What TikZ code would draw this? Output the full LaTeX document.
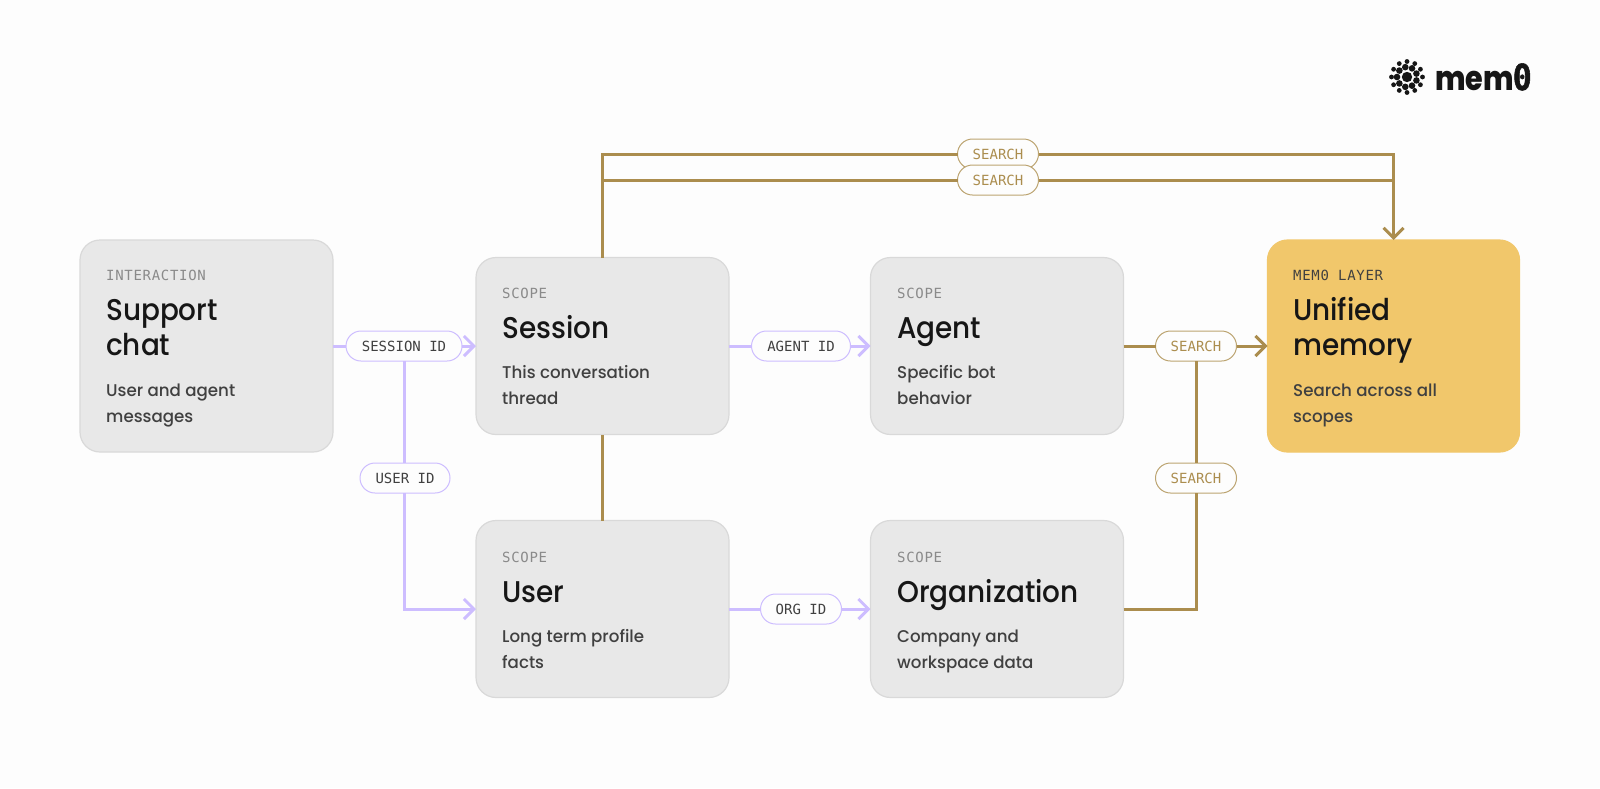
\documentclass[tikz,border=0pt]{standalone}
\usepackage{fontspec}
\usetikzlibrary{arrows.meta}
\setmainfont{Poppins Medium}
\newfontfamily\titlef{Poppins Medium}[FakeStretch=0.93]
\newfontfamily\descf{Poppins Medium}[FakeStretch=0.98]
\newfontfamily\monof{DejaVu Sans Mono}
\newfontfamily\tagf{DejaVu Sans Mono}[LetterSpace=5]
\newfontfamily\logof{Poppins ExtraBold}[FakeStretch=0.84]
\newfontfamily\logoz{DejaVu Sans Mono Bold}[FakeStretch=0.88,FakeBold=1.5]
\definecolor{bgc}{HTML}{FDFDFD}
\definecolor{boxf}{HTML}{E8E8E8}
\definecolor{boxd}{HTML}{D9D9D9}
\definecolor{gold}{HTML}{F1C76B}
\definecolor{brownl}{HTML}{AB8D4E}
\definecolor{purp}{HTML}{CDBDFF}
\definecolor{tagc}{HTML}{8A8A8A}
\definecolor{inkc}{HTML}{161616}
\definecolor{descc}{HTML}{404040}
\tikzset{
  x=1pt,y=-1pt,
  card/.style={rectangle,rounded corners=20pt,draw=boxd,line width=1.2pt,fill=boxf,minimum width=253pt,inner sep=0pt,outer sep=0pt,anchor=north west},
  goldcard/.style={card,draw=gold,fill=gold,minimum width=252pt},
  tagt/.style={anchor=base west,inner sep=0pt,font=\tagf\fontsize{14}{14}\selectfont,text=tagc},
  titlet/.style={anchor=base west,inner sep=0pt,font=\titlef\fontsize{30}{30}\selectfont,text=inkc},
  desct/.style={anchor=base west,inner sep=0pt,font=\descf\fontsize{17}{17}\selectfont,text=descc},
  pill/.style={rectangle,rounded corners=15pt,minimum height=30pt,inner sep=0pt,outer sep=0pt,fill=bgc,line width=1pt,font=\monof\fontsize{14}{14}\selectfont},
  ppill/.style={pill,draw=purp,text=descc},
  bpill/.style={pill,draw=brownl!80!white,text=brownl},
  pline/.style={draw=purp,line width=3pt},
  bline/.style={draw=brownl,line width=3pt},
  tipb/.style={-{Straight Barb[length=10pt,width=20pt,line width=3pt]}},
}
\begin{document}
\begin{tikzpicture}
\useasboundingbox (0,0) rectangle (1600,788);
\fill[bgc] (0,0) rectangle (1600,788);

% cards
\node[card,minimum height=212pt] (chat) at (80,240) {};
\node[tagt] (chatT) at (106,280) {INTERACTION};
\node[titlet] (chatA) at (106,320) {Support};
\node[titlet] (chatB) at (106,355) {chat};
\node[desct] (chatC) at (106,396) {User and agent};
\node[desct] (chatD) at (106,422) {messages};

\node[card,minimum height=177pt] (session) at (476,257.5) {};
\node[tagt] (sessT) at (502,298) {SCOPE};
\node[titlet] (sessA) at (502,338) {Session};
\node[desct] (sessC) at (502,378) {This conversation};
\node[desct] (sessD) at (502,404) {thread};

\node[card,minimum height=177pt] (agent) at (870.5,257.5) {};
\node[tagt] (agT) at (897,298) {SCOPE};
\node[titlet] (agA) at (897,338) {Agent};
\node[desct] (agC) at (897,378) {Specific bot};
\node[desct] (agD) at (897,404) {behavior};

\node[card,minimum height=177pt] (user) at (476,520.5) {};
\node[tagt] (usT) at (502,562) {SCOPE};
\node[titlet] (usA) at (502,602) {User};
\node[desct] (usC) at (502,642) {Long term profile};
\node[desct] (usD) at (502,668) {facts};

\node[card,minimum height=177pt] (org) at (870.5,520.5) {};
\node[tagt] (orT) at (897,562) {SCOPE};
\node[titlet] (orA) at (897,602) {Organization};
\node[desct] (orC) at (897,642) {Company and};
\node[desct] (orD) at (897,668) {workspace data};

\node[goldcard,minimum height=212pt] (mem) at (1267.5,240) {};
\node[tagt,text=descc] (memT) at (1293,280) {MEM0 LAYER};
\node[titlet] (memA) at (1293,320) {Unified};
\node[titlet] (memB) at (1293,355) {memory};
\node[desct] (memC) at (1293,396) {Search across all};
\node[desct] (memD) at (1293,422) {scopes};

% pills
\node[ppill,minimum width=116pt] (pS) at (404,346) {SESSION ID};
\node[ppill,minimum width=90pt] (pU) at (405,478) {USER ID};
\node[ppill,minimum width=99pt] (pA) at (801,346) {AGENT ID};
\node[ppill,minimum width=81pt] (pO) at (801,609) {ORG ID};
\node[bpill,minimum width=81pt] (sT) at (998,154) {SEARCH};
\node[bpill,minimum width=81pt] (sB) at (998,180) {SEARCH};
\node[bpill,minimum width=81pt] (sR) at (1196,346) {SEARCH};
\node[bpill,minimum width=81pt] (sL) at (1196,478) {SEARCH};

% connectors
\draw[pline] (chat.east) -- (pS.west);
\draw[pline,tipb] (pS.east) -- (session.west);
\draw[pline] (pS.south) -- (pS.south|-pU.north);
\draw[pline,tipb] (pS.south|-pU.south) |- (user.west);
\draw[pline] (session.east) -- (pA.west);
\draw[pline,tipb] (pA.east) -- (agent.west);
\draw[pline] (user.east) -- (pO.west);
\draw[pline,tipb] (pO.east) -- (org.west);
\draw[bline] (user.north) -- (session.south);
\draw[bline] (session.north) |- (sT.west);
\draw[bline] (session.north) |- (sB.west);
\draw[bline] (sB.east) -- (mem.north|-sB.east);
\draw[bline,tipb] (sT.east) -| (mem.north);
\draw[bline] (agent.east) -- (sR.west);
\draw[bline,tipb] (sR.east) -- (mem.west);
\draw[bline] (sR.south) -- (sL.north);
\draw[bline] (org.east) -| (sL.south);

% logo
\fill[inkc] (1407,77) circle (5.2);
\foreach \a in {0,40,...,320}{\fill[inkc] (1407,77) ++(\a+20:10) circle (3.3);}
\foreach \a in {0,30,...,330}{\fill[inkc] (1407,77) ++(\a:15.5) circle (2.4);}
\node[anchor=base west,inner sep=0pt,font=\logof\fontsize{34}{34}\selectfont,text=inkc] (logo) at (1435,90) {mem\kern-1pt{\logoz\fontsize{36}{36}\selectfont 0}};
\end{tikzpicture}
\end{document}
